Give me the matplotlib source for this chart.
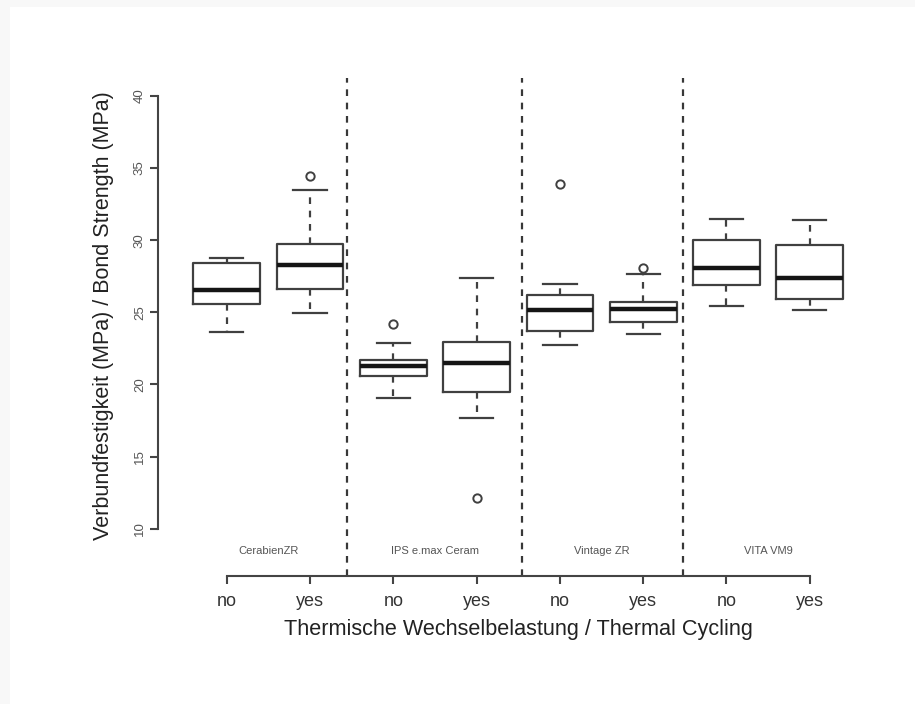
import matplotlib
matplotlib.use("Agg")
import matplotlib.pyplot as plt
from matplotlib.patches import Rectangle

plt.rcParams['font.family'] = ['Liberation Sans', 'DejaVu Sans']

# Data
groups = ["CerabienZR", "IPS e.max Ceram", "Vintage ZR", "VITA VM9"]
tick_labels = ["no", "yes", "no", "yes", "no", "yes", "no", "yes"]
whislo = [23.64, 24.95, 19.09, 17.68, 22.71, 23.50, 25.41, 25.13]
q1     = [25.60, 26.63, 20.57, 19.46, 23.70, 24.35, 26.89, 25.92]
med    = [26.57, 28.30, 21.26, 21.49, 25.16, 25.23, 28.07, 27.40]
q3     = [28.39, 29.73, 21.72, 22.94, 26.17, 25.69, 30.03, 29.70]
whishi = [28.80, 33.47, 22.90, 27.35, 26.93, 27.65, 31.48, 31.39]
fliers = [[], [34.48], [24.19], [12.14], [33.93], [28.04], [], []]
dividers = [2.45, 4.55, 6.48]
group_centers = [1.5, 3.5, 5.5, 7.5]
yticks = [10, 15, 20, 25, 30, 35, 40]

W, H = 915, 704
fig = plt.figure(figsize=(W / 100, H / 100), dpi=100)
fig.patch.set_facecolor("#f8f8f8")
fig.patches.append(Rectangle((10 / W, 0), 1 - 10 / W, 1 - 7 / H,
                             transform=fig.transFigure, facecolor="white",
                             edgecolor="none", zorder=-10))

ax = fig.add_axes([158.4 / W, (H - 576) / H, 719.7 / W, 498.5 / H])
ax.set_facecolor("none")

line_col = "#404040"
stats = []
for i in range(len(tick_labels)):
    stats.append(dict(whislo=whislo[i], q1=q1[i], med=med[i], q3=q3[i],
                      whishi=whishi[i], fliers=fliers[i]))

positions = list(range(1, len(tick_labels) + 1))
ax.bxp(stats, positions=positions, widths=0.8, showfliers=True,
       boxprops=dict(color=line_col, linewidth=1.6),
       medianprops=dict(color="#151515", linewidth=3.2, solid_capstyle="butt"),
       whiskerprops=dict(color=line_col, linewidth=1.6, linestyle=(0, (3, 3))),
       capprops=dict(color=line_col, linewidth=1.6),
       capwidths=0.4,
       flierprops=dict(marker="o", markerfacecolor="none",
                       markeredgecolor=line_col, markersize=6,
                       markeredgewidth=1.4))

for d in dividers:
    ax.axvline(d, color="#383838", linewidth=1.6, linestyle=(0, (3, 3)))

for g, c in zip(groups, group_centers):
    ax.text(c, 8.42, g, ha="center", va="center", fontsize=8, color="#555555")

ax.set_xlim(0.18, 8.82)
ax.set_ylim(6.72, 41.28)

for s in ["top", "right"]:
    ax.spines[s].set_visible(False)
ax.spines["left"].set_bounds(10, 40)
ax.spines["bottom"].set_bounds(1, 8)
for s in ["left", "bottom"]:
    ax.spines[s].set_color("#444444")
    ax.spines[s].set_linewidth(1.5)

ax.set_yticks(yticks)
ax.set_yticklabels([str(v) for v in yticks], rotation=90, va="center",
                   fontsize=9.5, color="#555555")
ax.set_xticks(positions)
ax.set_xticklabels(tick_labels, fontsize=13, color="#333333")
ax.tick_params(axis="both", direction="out", length=6, width=1.5,
               color="#444444")
ax.tick_params(axis="y", pad=3)
ax.tick_params(axis="x", pad=6)

ax.set_ylabel("Verbundfestigkeit (MPa) / Bond Strength (MPa)",
              fontsize=15.5, color="#222222")
ax.yaxis.set_label_coords(-0.062, 0.522)
ax.set_xlabel("Thermische Wechselbelastung / Thermal Cycling",
              fontsize=15.6, color="#222222", labelpad=7)

fig.savefig("out.png", dpi=100, facecolor=fig.get_facecolor())
